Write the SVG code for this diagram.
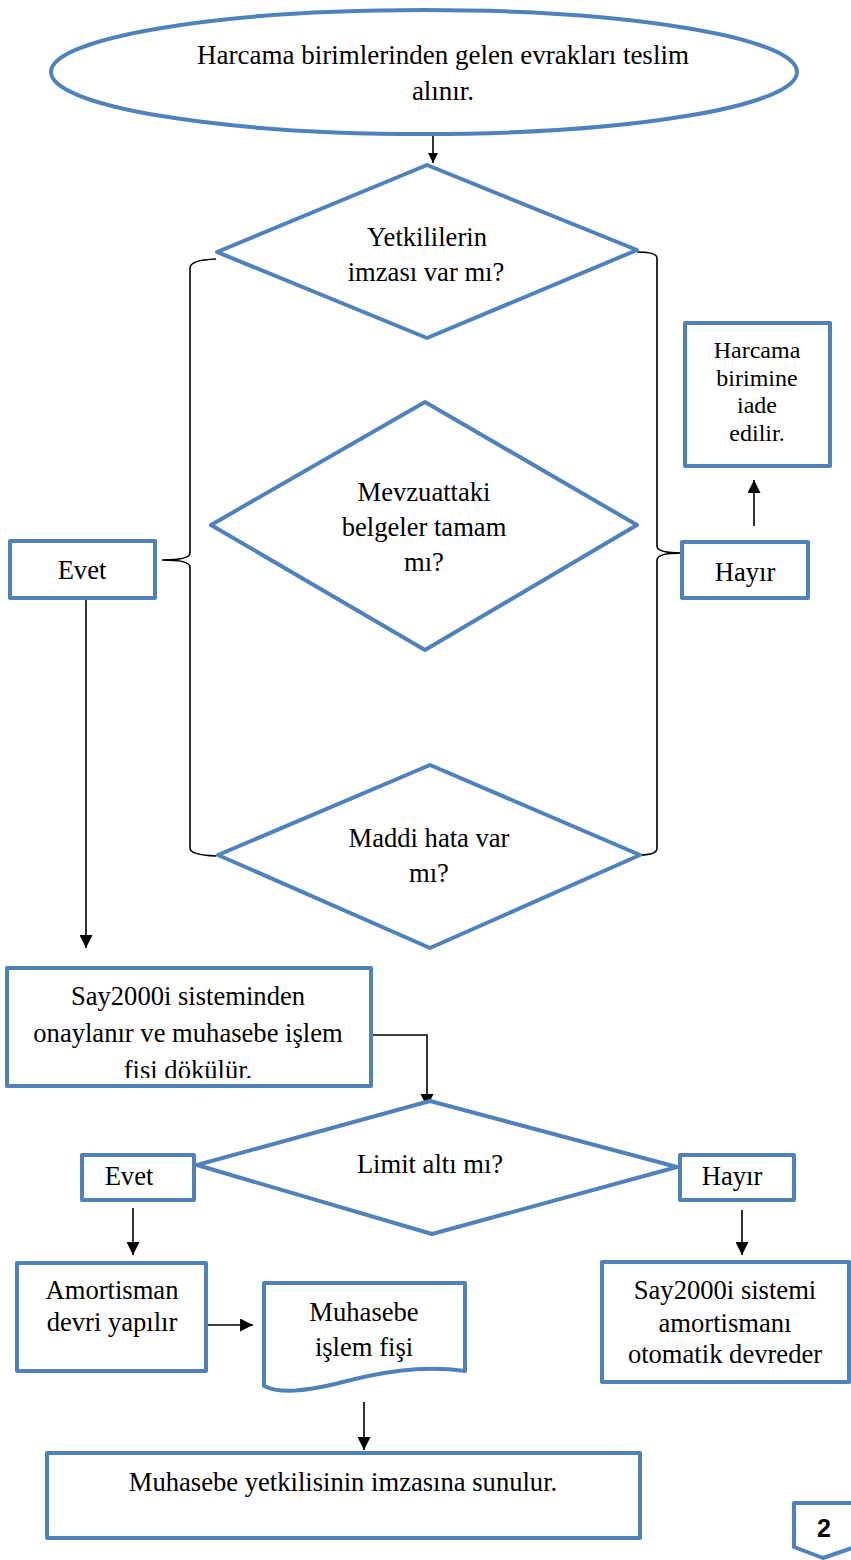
<svg xmlns="http://www.w3.org/2000/svg" width="851" height="1560" viewBox="0 0 851 1560">
<style>
.s{fill:#fff;stroke:#4F81BD;stroke-width:4;stroke-linejoin:round}
.t{font-size:26.6px;fill:#000;text-anchor:middle}
.c{fill:none;stroke:#000;stroke-width:1.6}
</style>
<defs>
<marker id="a" viewBox="0 0 10 10" refX="10" refY="5" markerWidth="10" markerHeight="10" markerUnits="userSpaceOnUse" orient="auto"><path d="M0,0L10,5L0,10z" fill="#000"/></marker>
<marker id="b" viewBox="0 0 10 10" refX="10" refY="5" markerWidth="13" markerHeight="13" markerUnits="userSpaceOnUse" orient="auto"><path d="M0,0L10,5L0,10z" fill="#000"/></marker>
<clipPath id="clipSay"><rect x="9" y="970" width="360" height="108"/></clipPath>
</defs>
<g id="connectors">
<line class="c" x1="433" y1="135" x2="433" y2="163" marker-end="url(#a)"/>
<path class="c" d="M216,259 Q190,260 190,268 L190,553 Q190,560 162,560 Q190,560 190,567 L190,848 Q190,855 216,856"/>
<path class="c" d="M637,252 Q657,252 657,258 L657,546 Q657,553 682,553 Q657,553 657,560 L657,848 Q657,855 640,855"/>
<line class="c" x1="754" y1="526" x2="754" y2="480" marker-end="url(#b)"/>
<line class="c" x1="86" y1="600" x2="86" y2="948" marker-end="url(#b)"/>
<path class="c" d="M372,1035 L427,1035 L427,1107" marker-end="url(#b)"/>
<line class="c" x1="133" y1="1208" x2="133" y2="1255" marker-end="url(#b)"/>
<line class="c" x1="742" y1="1210" x2="742" y2="1255" marker-end="url(#b)"/>
<line class="c" x1="208" y1="1325" x2="253" y2="1325" marker-end="url(#b)"/>
<line class="c" x1="364" y1="1402" x2="364" y2="1450" marker-end="url(#b)"/>
</g>
<g font-family="'Liberation Serif', 'Times New Roman', 'DejaVu Serif', serif">
<g id="start">
<ellipse class="s" cx="424" cy="72" rx="373" ry="62"/>
<text class="t" x="443" y="64" style="font-size:27px">Harcama birimlerinden gelen evrakları teslim</text>
<text class="t" x="443" y="100" style="font-size:27px">alınır.</text>
</g>
<g id="d1">
<polygon class="s" points="427,165 637,250 427,338 217,252"/>
<text class="t" x="427" y="246">Yetkililerin</text>
<text class="t" x="426" y="281">imzası var mı?</text>
</g>
<g id="d2">
<polygon class="s" points="425,402 637,525 425,650 211,525"/>
<text class="t" x="424" y="501">Mevzuattaki</text>
<text class="t" x="424" y="536">belgeler tamam</text>
<text class="t" x="424" y="571">mı?</text>
</g>
<g id="d3">
<polygon class="s" points="430,765 640,855 430,948 218,855"/>
<text class="t" x="429" y="847">Maddi hata var</text>
<text class="t" x="429" y="882">mı?</text>
</g>
<g id="evet1">
<rect class="s" x="10" y="541" width="145" height="57"/>
<text class="t" x="82" y="579">Evet</text>
</g>
<g id="hayir1">
<rect class="s" x="682" y="542" width="126" height="56"/>
<text class="t" x="745" y="581">Hayır</text>
</g>
<g id="iade">
<rect class="s" x="685" y="323" width="145" height="143"/>
<text class="t" x="757" y="358" style="font-size:24px">Harcama</text>
<text class="t" x="757" y="386" style="font-size:24px">birimine</text>
<text class="t" x="757" y="413" style="font-size:24px">iade</text>
<text class="t" x="757" y="441" style="font-size:24px">edilir.</text>
</g>
<g id="say">
<rect class="s" x="7" y="968" width="364" height="118"/>
<g clip-path="url(#clipSay)">
<text class="t" x="188" y="1005">Say2000i sisteminden</text>
<text class="t" x="188" y="1042">onaylanır ve muhasebe işlem</text>
<text class="t" x="188" y="1079">fişi dökülür.</text>
</g>
</g>
<g id="d4">
<polygon class="s" points="430,1101 677,1167 432,1234 197,1165"/>
<text class="t" x="430" y="1173">Limit altı mı?</text>
</g>
<g id="evet2">
<rect class="s" x="82" y="1155" width="112" height="45"/>
<text class="t" x="129" y="1185">Evet</text>
</g>
<g id="hayir2">
<rect class="s" x="680" y="1155" width="114" height="45"/>
<text class="t" x="732" y="1185">Hayır</text>
</g>
<g id="amort">
<rect class="s" x="17" y="1263" width="189" height="108"/>
<text class="t" x="112" y="1299">Amortisman</text>
<text class="t" x="112" y="1331">devri yapılır</text>
</g>
<g id="fis">
<path class="s" d="M264,1283 L465,1283 L465,1371 C420,1365 380,1372 335,1384 C305,1391 280,1394 264,1386 Z"/>
<text class="t" x="364" y="1321">Muhasebe</text>
<text class="t" x="364" y="1356">işlem fişi</text>
</g>
<g id="otomatik">
<rect class="s" x="602" y="1262" width="247" height="120"/>
<text class="t" x="725" y="1299">Say2000i sistemi</text>
<text class="t" x="725" y="1332">amortismanı</text>
<text class="t" x="725" y="1363">otomatik devreder</text>
</g>
<g id="imza">
<rect class="s" x="47" y="1453" width="593" height="85"/>
<text class="t" x="343" y="1491">Muhasebe yetkilisinin imzasına sunulur.</text>
</g>
</g>
<g id="page">
<path class="s" d="M794,1503 L855,1503 L855,1547 L823,1558 L794,1547 Z"/>
<text x="824" y="1537" font-family="'Liberation Sans', Arial, sans-serif" font-weight="bold" font-size="25" text-anchor="middle">2</text>
</g>
</svg>
